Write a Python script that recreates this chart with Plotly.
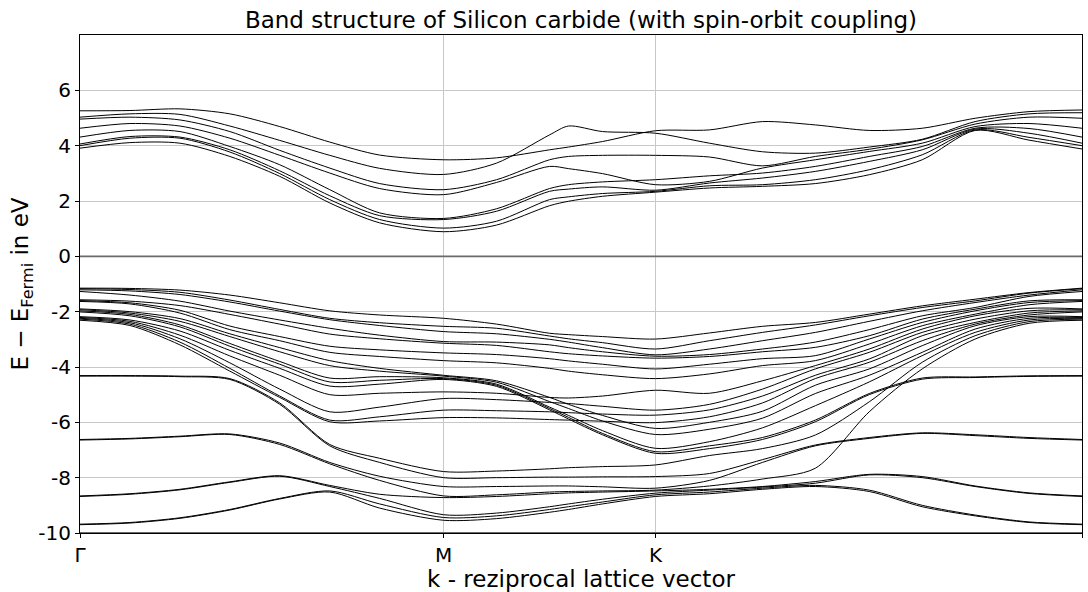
import plotly.graph_objects as go

# k-path coordinate (Γ-M-K-Γ), sample points
k = [0.0, 0.0786, 0.1573, 0.2359, 0.3145, 0.3932, 0.4718, 0.5725, 0.6558, 0.7392, 0.7690,
     0.8225, 0.9059, 0.9908, 1.0742, 1.1575, 1.2424, 1.3258, 1.4091, 1.4940, 1.5774]
tick_pos = [0.0, 0.5725, 0.9059, 1.5774]
tick_labels = ["Γ", "M", "K", "Γ"]

# conduction bands (eV)
c1 = [5.26, 5.27, 5.33, 5.15, 4.69, 4.13, 3.66, 3.49, 3.56, 3.85, 3.95, 4.15, 4.54, 4.57, 4.87, 4.75, 4.55, 4.63, 4.99, 5.23, 5.29]
c2 = [5.03, 5.15, 5.13, 4.71, 4.19, 3.65, 3.18, 2.96, 3.37, 4.39, 4.71, 4.51, 4.45, 4.09, 3.78, 3.73, 3.95, 4.23, 4.87, 5.15, 5.19]
c3 = [4.96, 5.03, 4.93, 4.51, 3.83, 3.19, 2.63, 2.41, 2.77, 3.49, 3.61, 3.65, 3.65, 3.59, 3.27, 3.61, 3.87, 4.21, 4.78, 5.03, 4.99]
c4 = [4.63, 4.80, 4.71, 4.27, 3.65, 3.01, 2.45, 2.23, 2.67, 3.25, 3.17, 2.99, 2.59, 2.71, 3.19, 3.49, 3.79, 4.09, 4.69, 4.80, 4.63]
c5 = [4.31, 4.55, 4.51, 3.97, 3.31, 2.41, 1.57, 1.37, 1.72, 2.45, 2.59, 2.69, 2.77, 2.91, 3.01, 3.25, 3.61, 3.97, 4.63, 4.62, 4.31]
c6 = [4.06, 4.33, 4.31, 3.85, 3.09, 2.19, 1.47, 1.33, 1.63, 2.35, 2.43, 2.51, 2.39, 2.65, 2.83, 3.07, 3.43, 3.85, 4.60, 4.45, 4.09]
c7 = [4.00, 4.27, 4.27, 3.77, 2.99, 2.05, 1.33, 1.02, 1.27, 2.05, 2.15, 2.27, 2.35, 2.55, 2.59, 2.77, 3.13, 3.67, 4.57, 4.30, 4.00]
c8 = [3.91, 4.11, 4.09, 3.61, 2.89, 1.93, 1.21, 0.89, 1.13, 1.83, 1.99, 2.17, 2.32, 2.47, 2.53, 2.63, 2.95, 3.49, 4.55, 4.20, 3.88]

# valence bands (eV)
vA1 = [-1.15, -1.16, -1.22, -1.40, -1.68, -1.97, -2.12, -2.24, -2.45, -2.78, -2.83, -2.90, -2.99, -2.77, -2.53, -2.39, -2.09, -1.79, -1.55, -1.31, -1.15]
vA2 = [-1.17, -1.20, -1.30, -1.58, -1.92, -2.24, -2.40, -2.53, -2.60, -2.88, -2.98, -3.12, -3.35, -3.05, -2.75, -2.48, -2.15, -1.85, -1.61, -1.33, -1.17]
vA3 = [-1.21, -1.25, -1.38, -1.65, -1.98, -2.29, -2.50, -2.72, -2.80, -3.00, -3.10, -3.30, -3.56, -3.35, -3.05, -2.75, -2.35, -1.97, -1.67, -1.40, -1.21]
vA4 = [-1.27, -1.40, -1.62, -1.98, -2.30, -2.60, -2.85, -3.08, -3.10, -3.20, -3.30, -3.45, -3.61, -3.55, -3.35, -3.10, -2.65, -2.15, -1.85, -1.45, -1.27]
vB1 = [-1.57, -1.62, -1.78, -2.10, -2.45, -2.81, -2.98, -3.14, -3.22, -3.45, -3.52, -3.60, -3.68, -3.62, -3.45, -3.29, -2.87, -2.27, -1.91, -1.61, -1.57]
vB2 = [-1.60, -1.68, -1.95, -2.52, -2.90, -3.25, -3.38, -3.49, -3.55, -3.70, -3.78, -3.90, -4.07, -3.90, -3.70, -3.59, -2.99, -2.39, -1.97, -1.67, -1.60]
vB3 = [-1.63, -1.72, -2.05, -2.65, -3.05, -3.47, -3.62, -3.77, -3.85, -4.05, -4.15, -4.28, -4.42, -4.25, -3.95, -3.77, -3.17, -2.51, -2.09, -1.75, -1.63]
vC1 = [-1.90, -2.00, -2.25, -2.80, -3.30, -3.77, -4.05, -4.30, -4.50, -5.10, -5.35, -5.75, -6.22, -6.00, -5.60, -4.66, -4.07, -3.23, -2.51, -2.18, -2.18]
vC2 = [-1.93, -2.05, -2.35, -2.90, -3.45, -3.95, -4.15, -4.33, -4.55, -5.25, -5.50, -5.95, -6.44, -6.25, -5.85, -4.96, -4.30, -3.47, -2.63, -2.24, -2.21]
vC3 = [-1.97, -2.10, -2.48, -3.15, -3.80, -4.40, -4.35, -4.39, -4.62, -5.45, -5.75, -6.30, -6.94, -6.70, -6.20, -5.40, -4.54, -3.59, -2.75, -2.30, -2.24]
vC4 = [-2.01, -2.15, -2.55, -3.25, -3.90, -4.54, -4.48, -4.42, -4.66, -5.50, -5.82, -6.40, -7.06, -6.85, -6.55, -5.92, -4.96, -4.40, -4.36, -4.32, -4.31]
vD1 = [-2.18, -2.30, -2.70, -3.40, -4.05, -4.69, -4.62, -4.45, -4.70, -5.55, -5.88, -6.45, -7.12, -6.95, -6.62, -5.98, -5.00, -4.44, -4.38, -4.34, -4.33]
vD2 = [-2.21, -2.35, -2.85, -3.60, -4.30, -5.00, -4.95, -4.90, -4.95, -5.10, -5.12, -5.05, -4.84, -4.95, -4.50, -3.95, -3.35, -2.63, -2.15, -1.88, -1.90]
vD3 = [-2.24, -2.40, -2.98, -3.85, -4.80, -5.62, -5.45, -5.14, -5.18, -5.28, -5.32, -5.42, -5.56, -5.35, -4.80, -4.07, -3.47, -2.75, -2.27, -1.97, -1.93]
vD4 = [-2.27, -2.45, -3.10, -4.05, -5.05, -5.92, -5.80, -5.56, -5.58, -5.62, -5.65, -5.70, -5.74, -5.55, -5.05, -4.30, -3.71, -2.87, -2.39, -2.05, -1.97]
vD5 = [-2.31, -2.50, -3.20, -4.15, -5.10, -5.98, -5.95, -5.83, -5.84, -5.90, -5.92, -5.96, -6.01, -5.80, -5.30, -4.42, -3.83, -3.05, -2.45, -2.12, -2.01]
vE1 = [-4.31, -4.31, -4.33, -4.42, -5.30, -6.80, -7.30, -7.78, -7.76, -7.68, -7.64, -7.60, -7.54, -7.20, -6.95, -6.46, -5.26, -3.83, -2.87, -2.36, -2.27]
vE2 = [-4.33, -4.33, -4.35, -4.45, -5.35, -6.85, -7.45, -8.00, -8.00, -7.98, -7.98, -7.97, -7.96, -7.85, -7.35, -6.82, -6.55, -6.38, -6.45, -6.55, -6.62]
vF1 = [-6.62, -6.58, -6.50, -6.42, -6.75, -7.45, -7.95, -8.32, -8.32, -8.30, -8.30, -8.33, -8.38, -8.10, -7.45, -6.85, -6.58, -6.40, -6.48, -6.58, -6.64]
vF2 = [-6.64, -6.60, -6.52, -6.44, -6.80, -7.50, -8.10, -8.66, -8.62, -8.52, -8.50, -8.48, -8.45, -8.30, -8.05, -7.66, -5.62, -4.07, -2.99, -2.42, -2.31]
vG1 = [-8.66, -8.58, -8.42, -8.15, -7.93, -8.28, -8.60, -8.72, -8.68, -8.58, -8.55, -8.52, -8.48, -8.42, -8.32, -8.14, -7.88, -7.96, -8.30, -8.55, -8.66]
vG2 = [-8.68, -8.60, -8.44, -8.17, -7.95, -8.32, -8.75, -9.34, -9.28, -9.05, -8.95, -8.78, -8.56, -8.45, -8.34, -8.20, -7.90, -8.00, -8.32, -8.57, -8.68]
vH1 = [-9.68, -9.62, -9.45, -9.15, -8.75, -8.48, -8.95, -9.44, -9.38, -9.15, -9.05, -8.88, -8.62, -8.52, -8.38, -8.28, -8.45, -9.00, -9.35, -9.60, -9.68]
vH2 = [-9.70, -9.64, -9.47, -9.17, -8.77, -8.52, -9.10, -9.54, -9.48, -9.25, -9.15, -8.95, -8.68, -8.58, -8.42, -8.32, -8.50, -9.05, -9.38, -9.62, -9.70]

y_ticks = [-10, -8, -6, -4, -2, 0, 2, 4, 6]
y_ticktext = ["-10", "-8", "-6", "-4", "-2", "0", "2", "4", "6"]

bands = [c1, c2, c3, c4, c5, c6, c7, c8,
         vA1, vA2, vA3, vA4, vB1, vB2, vB3, vC1, vC2, vC3, vC4,
         vD1, vD2, vD3, vD4, vD5, vE1, vE2, vF1, vF2, vG1, vG2, vH1, vH2]
for b in bands:
    if len(b) != len(k):
        raise ValueError("band length mismatch")

FONT = "DejaVu Sans, Verdana, sans-serif"
fig = go.Figure()
for b in bands:
    fig.add_trace(go.Scatter(x=k, y=b, mode="lines",
                             line=dict(color="black", width=1, shape="spline", smoothing=0.8),
                             showlegend=False, hoverinfo="skip"))

fig.add_hline(y=0, line=dict(color="#6a6a6a", width=1.6), layer="above")
fig.add_hline(y=-10, line=dict(color="#6a6a6a", width=2), layer="above")

fig.update_layout(
    width=1088, height=592,
    margin=dict(l=80, r=5, t=35, b=57),
    paper_bgcolor="white", plot_bgcolor="white",
    font=dict(family=FONT, size=20, color="black"),
    title=dict(text="Band structure of Silicon carbide (with spin-orbit coupling)",
               x=0.534, xanchor="center", y=0.966, yanchor="middle",
               font=dict(family=FONT, size=23, color="black")),
    xaxis=dict(range=[0, 1.5774], tickmode="array", tickvals=tick_pos, ticktext=tick_labels,
               showgrid=True, gridcolor="#c8c8c8", gridwidth=1, zeroline=False,
               showline=True, linecolor="black", linewidth=1, mirror=True,
               ticks="outside", ticklen=4, tickcolor="black",
               tickfont=dict(family=FONT, size=20),
               title=dict(text="k - reziprocal lattice vector", standoff=4,
                          font=dict(family=FONT, size=23))),
    yaxis=dict(range=[-10, 8], tickmode="array", tickvals=y_ticks, ticktext=y_ticktext,
               showgrid=True, gridcolor="#c8c8c8", gridwidth=1, zeroline=False,
               showline=True, linecolor="black", linewidth=1, mirror=True,
               ticks="outside", ticklen=4, tickcolor="black",
               tickfont=dict(family=FONT, size=20),
               title=dict(text="E − E<sub>Fermi</sub> in eV", standoff=3,
                          font=dict(family=FONT, size=23))),
)

fig.write_html("out.html")
